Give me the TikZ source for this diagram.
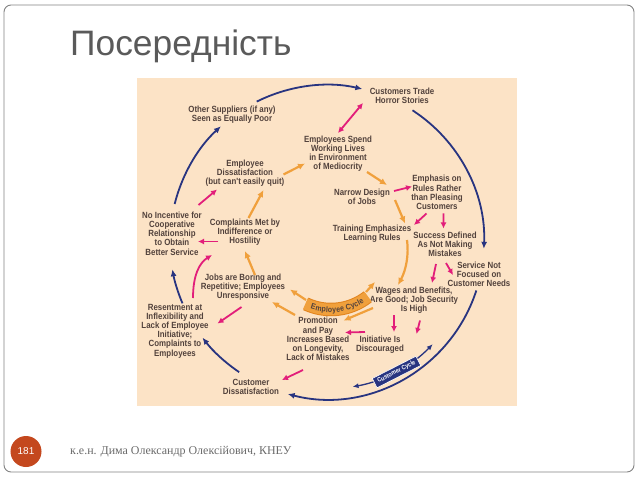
\documentclass[tikz,border=0pt]{standalone}
\usepackage{fontspec}
\setmainfont{Liberation Sans}
\newfontfamily\diagfont[FakeStretch=0.88]{Liberation Sans}
\newfontfamily\footfont{Liberation Serif}
\usetikzlibrary{arrows.meta,decorations.text}
\definecolor{peach}{RGB}{252,227,198}
\definecolor{dtext}{RGB}{82,66,60}
\definecolor{navy}{RGB}{40,52,128}
\definecolor{mag}{RGB}{226,30,122}
\definecolor{orng}{RGB}{240,160,60}
\definecolor{orngdark}{RGB}{226,132,30}
\definecolor{framec}{RGB}{130,130,130}
\definecolor{titlegray}{RGB}{90,90,90}
\definecolor{badge}{RGB}{196,72,30}
\definecolor{foottext}{RGB}{105,105,105}
\tikzset{
  lbl/.style={font=\diagfont\bfseries\fontsize{9}{9.2}\selectfont, text=dtext, align=center, inner sep=0pt},
  barr/.style={draw=navy, line width=1.8bp, -{Latex[length=7bp,width=6bp]}},
  marr/.style={draw=mag, line width=1.8bp, -{Latex[length=6bp,width=6bp]}},
  oarr/.style={draw=orng, line width=2.2bp, -{Latex[length=7bp,width=6.5bp]}},
  custbox/.style={fill=navy, draw=white, line width=0.6bp, text=white, font=\diagfont\bfseries\fontsize{6.3}{6.3}\selectfont, inner xsep=3.5bp, inner ysep=2.3bp}
}
\begin{document}
\begin{tikzpicture}[x=1bp,y=-1bp]
\useasboundingbox (0,0) rectangle (640,480);
% slide frame
\draw[framec, line width=0.9bp, rounded corners=7bp] (4,5) rectangle (634,472);
\node[anchor=base west, font=\fontsize{35.5}{35.5}\selectfont, text=titlegray, inner sep=0pt] (title) at (70,56) {Посередність};
% diagram background
\fill[peach] (137,78) rectangle (517,406);
\coordinate (cc) at (327,242);

% labels
\node[lbl] (cth) at (402,96) {Customers Trade\\Horror Stories};
\node[lbl] (osp) at (232,114.5) {Other Suppliers (if any)\\Seen as Equally Poor};
\node[lbl] (esw) at (338,153.5) {Employees Spend\\Working Lives\\in Environment\\of Mediocrity};
\node[lbl] (edq) at (245,173) {Employee\\Dissatisfaction\\(but can't easily quit)};
\node[lbl] (emp) at (437,192.5) {Emphasis on\\Rules Rather\\than Pleasing\\Customers};
\node[lbl] (nar) at (362,196.5) {Narrow Design\\of Jobs};
\node[lbl] (tra) at (372,234) {Training Emphasizes\\Learning Rules};
\node[lbl] (suc) at (445,244) {Success Defined\\As Not Making\\Mistakes};
\node[lbl] (noi) at (172,233.5) {No Incentive for\\Cooperative\\Relationship\\to Obtain\\Better Service};
\node[lbl] (com) at (245,232.5) {Complaints Met by\\Indifference or\\Hostility};
\node[lbl] (ser) at (479,274.5) {Service Not\\Focused on\\Customer Needs};
\node[lbl] (job) at (243,287.5) {Jobs are Boring and\\Repetitive; Employees\\Unresponsive};
\node[lbl] (wag) at (414,300.5) {Wages and Benefits,\\Are Good; Job Security\\Is High};
\node[lbl] (res) at (175,331) {Resentment at\\Inflexibility and\\Lack of Employee\\Initiative;\\Complaints to\\Employees};
\node[lbl] (pro) at (318,339) {Promotion\\and Pay\\Increases Based\\on Longevity,\\Lack of Mistakes};
\node[lbl] (ini) at (380,344.5) {Initiative Is\\Discouraged};
\node[lbl] (cud) at (251,387) {Customer\\Dissatisfaction};

% customer cycle (outer, blue)
\draw[barr] ([shift={(-116.6:157)}]cc) arc[start angle=-116.6, end angle=-77, radius=157];
\draw[barr] ([shift={(-57:157)}]cc) arc[start angle=-57, end angle=2.5, radius=157];
\draw[barr] ([shift={(18:157)}]cc) arc[start angle=18, end angle=104.5, radius=157];
\draw[barr] ([shift={(124:157)}]cc) arc[start angle=124, end angle=142.5, radius=157];
\draw[barr] ([shift={(157:157)}]cc) arc[start angle=157, end angle=170, radius=157];
\draw[barr] ([shift={(194:157)}]cc) arc[start angle=194, end angle=227.5, radius=157];
\draw[navy, line width=1.3bp, {Latex[length=6bp,width=5bp]}-{Latex[length=6bp,width=5bp]}] ([shift={(80:147)}]cc) arc[start angle=80, end angle=44, radius=147];
\node[custbox, rotate=27] (ccl) at (396.5,372) {Customer Cycle};

% employee cycle banner
\coordinate (ecl) at (306,300);
\coordinate (ecr) at (366,292);
\draw[orngdark, line width=13.5bp] ([shift={(115:59.5)}]331,250) arc[start angle=115, end angle=52, radius=59.5];
\draw[orng, line width=11.5bp] ([shift={(115.5:59.5)}]331,250) arc[start angle=115.5, end angle=51.5, radius=59.5];
\path[decorate, decoration={text along path, text align=center, raise=-2.8bp,
  text format delimiters={|}{|},
  text={|\diagfont\bfseries\fontsize{8}{8}\selectfont\color{dtext}|Employee Cycle}}]
  ([shift={(118:59.5)}]331,250) arc[start angle=118, end angle=49, radius=59.5];

% employee cycle arrows (orange)
\draw[oarr] ([shift={(38.5,1.5)}]edq.center) -- ([shift={(-33,10)}]esw.center);
\draw[oarr] ([shift={(29,18.5)}]esw.center) -- ([shift={(25,-11.5)}]nar.center);
\draw[oarr] ([shift={(33,3.5)}]nar.center) -- ([shift={(33,-10.5)}]tra.center);
\draw[oarr] ([shift={(35,6)}]tra.center) .. controls (409,255) and (406,270) .. ([shift={(-16,-15.5)}]wag.center);
\draw[oarr] ([shift={(-41,7.5)}]wag.center) -- ([shift={(25.5,-18.5)}]pro.center);
\draw[oarr] ([shift={(-23,-24)}]pro.center) -- ([shift={(29,14.5)}]job.center);
\draw[oarr] (ecl) -- ([shift={(47,2)}]job.center);
\draw[oarr] (ecr) -- ([shift={(-39,-18.5)}]wag.center);
\draw[oarr] ([shift={(12,-12.5)}]job.center) -- ([shift={(0,18.5)}]com.center);
\draw[oarr] ([shift={(3.5,-14.5)}]com.center) -- ([shift={(18.5,17)}]edq.center);

% magenta arrows
\draw[marr, {Latex[length=6bp,width=6bp]}-{Latex[length=6bp,width=6bp]}] ([shift={(-39,7)}]cth.center) -- ([shift={(0,-20.5)}]esw.center);
\draw[marr] ([shift={(32,-5.5)}]nar.center) -- ([shift={(-25,-6)}]emp.center);
\draw[marr] ([shift={(-10.5,21)}]emp.center) -- ([shift={(42,-9)}]tra.center);
\draw[marr] ([shift={(6.5,21)}]emp.center) -- ([shift={(-1.5,-15.5)}]suc.center);
\draw[marr] ([shift={(-9,20)}]suc.center) -- ([shift={(18,-17.5)}]wag.center);
\draw[marr] ([shift={(1,19)}]suc.center) -- ([shift={(-26,0.5)}]ser.center);
\draw[marr] ([shift={(-20,14.5)}]wag.center) -- ([shift={(14,-12.5)}]ini.center);
\draw[marr] ([shift={(6,20)}]wag.center) -- ([shift={(2.5,33.5)}]wag.center);
\draw[marr] ([shift={(-15,-12.5)}]ini.center) -- ([shift={(27,-6.5)}]pro.center);
\draw[marr] ([shift={(-15,31)}]pro.center) -- ([shift={(31,-7)}]cud.center);
\draw[marr] ([shift={(-1.5,19.5)}]job.center) -- ([shift={(42.5,-7.5)}]res.center);
\draw[marr] ([shift={(18,-33)}]res.center) .. controls (193,276) and (199,263) .. ([shift={(-33,22.5)}]com.center);
\draw[marr] ([shift={(-27,9)}]com.center) -- ([shift={(26,8)}]noi.center);
\draw[marr] ([shift={(26.5,-28.5)}]noi.center) -- ([shift={(-28,16.5)}]edq.center);

% footer
\node[circle, fill=badge, minimum size=31bp, inner sep=0pt, text=white, font=\fontsize{10}{10}\selectfont] (pg) at (26,451.5) {181};
\node[anchor=west, font=\footfont\fontsize{12}{12}\selectfont, text=foottext, inner sep=0pt] (ft) at (70,451.5) {к.е.н. Дима Олександр Олексійович, КНЕУ};
\end{tikzpicture}
\end{document}
